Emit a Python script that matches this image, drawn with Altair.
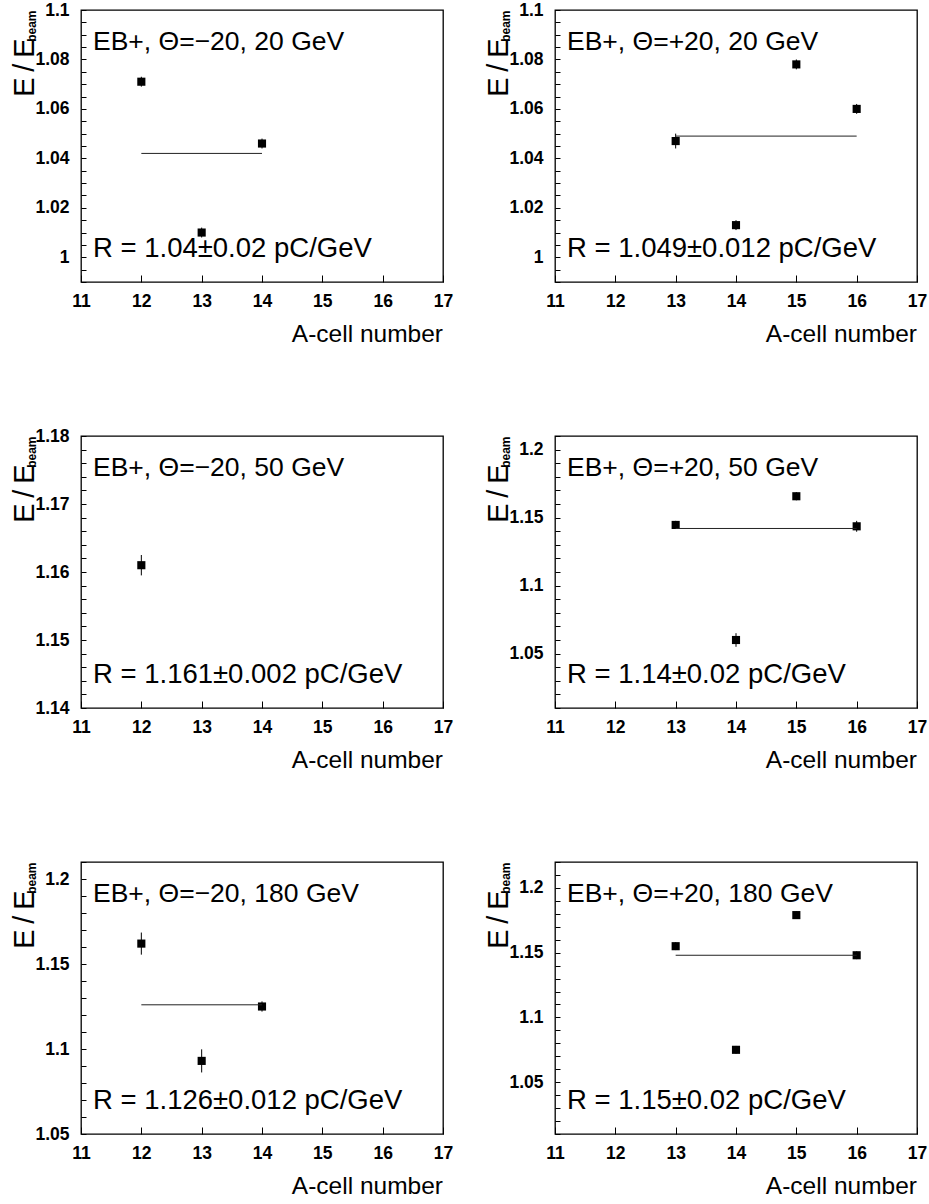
import altair as alt
import pandas as pd

# ---------------- data ----------------
titles = ["EB+, Θ=−20, 20 GeV", "EB+, Θ=+20, 20 GeV",
          "EB+, Θ=−20, 50 GeV", "EB+, Θ=+20, 50 GeV",
          "EB+, Θ=−20, 180 GeV", "EB+, Θ=+20, 180 GeV"]
rtexts = ["R = 1.04±0.02 pC/GeV", "R = 1.049±0.012 pC/GeV",
          "R = 1.161±0.002 pC/GeV", "R = 1.14±0.02 pC/GeV",
          "R = 1.126±0.012 pC/GeV", "R = 1.15±0.02 pC/GeV"]

cells_1 = [12, 13, 14]
ratio_1 = [1.071, 1.010, 1.046]
err_1 = [0.002, 0.002, 0.002]

cells_2 = [13, 14, 15, 16]
ratio_2 = [1.047, 1.013, 1.078, 1.060]
err_2 = [0.003, 0.002, 0.002, 0.002]

cells_3 = [12]
ratio_3 = [1.161]
err_3 = [0.0015]

cells_4 = [13, 14, 15, 16]
ratio_4 = [1.1446, 1.060, 1.1657, 1.1436]
err_4 = [0.003, 0.005, 0.003, 0.004]

cells_5 = [12, 13, 14]
ratio_5 = [1.162, 1.093, 1.125]
err_5 = [0.0065, 0.0068, 0.003]

cells_6 = [13, 14, 15, 16]
ratio_6 = [1.155, 1.075, 1.179, 1.148]
err_6 = [0.003, 0.003, 0.003, 0.003]

# fitted constant and the cell range it spans (None = no fit line)
fit_vals = [1.042, 1.049, None, 1.142, 1.126, 1.148]
fit_from = [12, 13, None, 13, 12, 13]
fit_to = [14, 16, None, 16, 14, 16]

y_domains = [[0.99, 1.10], [0.99, 1.10], [1.14, 1.18],
             [1.01, 1.21], [1.05, 1.21], [1.01, 1.22]]
y_major = [0.02, 0.02, 0.01, 0.05, 0.05, 0.05]
y_minor = [0.005, 0.005, 0.002, 0.01, 0.01, 0.01]
x_ticks = [11, 12, 13, 14, 15, 16, 17]

all_cells = [cells_1, cells_2, cells_3, cells_4, cells_5, cells_6]
all_ratio = [ratio_1, ratio_2, ratio_3, ratio_4, ratio_5, ratio_6]
all_err = [err_1, err_2, err_3, err_4, err_5, err_6]

# ---------------- styling ----------------
FONT = "Liberation Sans, Arial, sans-serif"
W, H = 362, 272


def tick_values(lo, hi, step):
    n = int(round((hi - lo) / step))
    return [round(lo + i * step, 5) for i in range(n + 1)]


def panel(i):
    ylo, yhi = y_domains[i]
    major = y_major[i]
    yvals = tick_values(ylo, yhi, y_minor[i])
    label_expr = (f"abs(datum.value/{major} - round(datum.value/{major})) < 0.001"
                  f" ? format(datum.value, '~g') : ''")
    xscale = alt.Scale(domain=[11, 17], nice=False, zero=False)
    yscale = alt.Scale(domain=[ylo, yhi], nice=False, zero=False)
    xaxis = alt.Axis(values=x_ticks, title=None, grid=False, domain=False,
                     offset=-7, tickSize=7, tickColor="black", tickWidth=1,
                     labelFlush=False, labelPadding=10, labelFont=FONT,
                     labelFontSize=17.5, labelFontWeight="bold", labelColor="black",
                     labelOverlap=False)
    yaxis = alt.Axis(values=yvals, title=None, grid=False, domain=False,
                     offset=-5, tickSize=5, tickColor="black", tickWidth=1,
                     labelExpr=label_expr, labelPadding=12, labelFont=FONT,
                     labelFontSize=17.5, labelFontWeight="bold", labelColor="black",
                     labelOverlap=False, labelFlush=False)

    df = pd.DataFrame({"cell": all_cells[i], "ratio": all_ratio[i],
                       "err": all_err[i]})
    df["lo"] = df["ratio"] - df["err"]
    df["hi"] = df["ratio"] + df["err"]
    base = alt.Chart(df)

    x_enc = alt.X("cell:Q", scale=xscale, axis=xaxis)
    errbars = base.mark_rule(color="black", strokeWidth=1).encode(
        x=x_enc, y=alt.Y("lo:Q", scale=yscale, axis=yaxis), y2="hi:Q")
    points = base.mark_square(size=66, color="black", opacity=1, filled=True).encode(
        x=x_enc, y=alt.Y("ratio:Q", scale=yscale, axis=yaxis))
    layers = [errbars, points]

    if fit_vals[i] is not None:
        fdf = pd.DataFrame({"c0": [fit_from[i]], "c1": [fit_to[i]], "fit": [fit_vals[i]]})
        fit = alt.Chart(fdf).mark_rule(color="#222222", strokeWidth=1).encode(
            x=alt.X("c0:Q", scale=xscale, axis=xaxis), x2="c1:Q",
            y=alt.Y("fit:Q", scale=yscale, axis=yaxis))
        layers.append(fit)

    tdf = pd.DataFrame({"title": [titles[i]], "r": [rtexts[i]],
                        "xt": ["A-cell number"], "ey": ["E\u2009/\u2009E"],
                        "sub": ["beam"]})
    tbase = alt.Chart(tdf)
    layers.append(tbase.mark_text(align="left", baseline="alphabetic", font=FONT,
                                  fontSize=26.5, color="black").encode(
        text="title:N", x=alt.value(12), y=alt.value(40)))
    layers.append(tbase.mark_text(align="left", baseline="alphabetic", font=FONT,
                                  fontSize=27.5, color="black").encode(
        text="r:N", x=alt.value(12), y=alt.value(H - 25)))
    layers.append(tbase.mark_text(align="right", baseline="alphabetic", font=FONT,
                                  fontSize=24.5, color="black").encode(
        text="xt:N", x=alt.value(W), y=alt.value(H + 60)))
    layers.append(tbase.mark_text(align="right", baseline="alphabetic", angle=270,
                                  font=FONT, fontSize=29, color="black").encode(
        text="ey:N", x=alt.value(-47), y=alt.value(28.5)))
    layers.append(tbase.mark_text(align="right", baseline="alphabetic", angle=270,
                                  font=FONT, fontSize=12, fontWeight="bold",
                                  color="black").encode(
        text="sub:N", x=alt.value(-45), y=alt.value(0.5)))

    return alt.layer(*layers).properties(width=W, height=H)


chart = alt.concat(*[panel(i) for i in range(6)], columns=2,
                   spacing={"row": 154, "column": 112}, bounds="flush").properties(
    padding={"left": 10, "top": 0, "right": 0, "bottom": 0},
    background="white",
).configure_view(stroke="black", strokeWidth=1.3)

chart.save("out.html", embed_options={"renderer": "svg", "actions": False})
